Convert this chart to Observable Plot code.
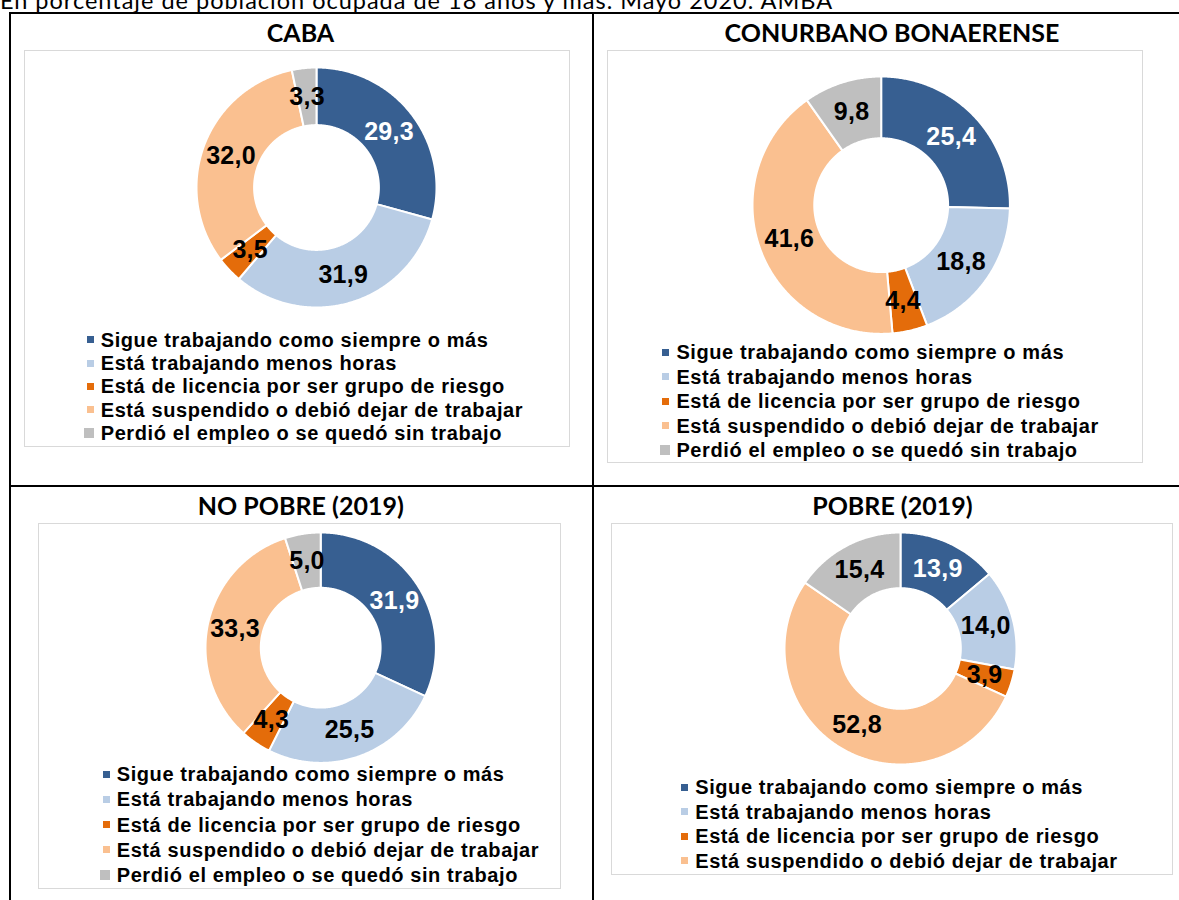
<!DOCTYPE html>
<html><head><meta charset="utf-8">
<script src="https://cdn.jsdelivr.net/npm/d3@7"></script>
<script src="https://cdn.jsdelivr.net/npm/@observablehq/plot@0.6"></script>
<style>
html,body{margin:0;padding:0;background:#fff;}
#page{position:relative;width:1179px;height:900px;overflow:hidden;background:#fff;}
.rule{position:absolute;background:#000;}
.title{position:absolute;font-family:Lato,"Open Sans",sans-serif;font-weight:700;white-space:nowrap;color:#000;text-align:center;}
.caption{position:absolute;font-family:Lato,"Open Sans",sans-serif;font-weight:400;white-space:nowrap;color:#000;}
.box{position:absolute;border:1.5px solid #d9d9d9;box-sizing:border-box;}
.leg{position:absolute;font-family:"Liberation Sans",Arial,sans-serif;font-weight:700;font-size:20px;line-height:20px;height:20px;white-space:nowrap;letter-spacing:0.6px;color:#000;}
.mk{position:absolute;}
.plotwrap{position:absolute;}
</style></head><body><div id="page"></div>
<script>
// ---------- DATA ----------
const caption = "En porcentaje de población ocupada de 18 años y más. Mayo 2020. AMBA";
const categories = [
  "Sigue trabajando como siempre o más",
  "Está trabajando menos horas",
  "Está de licencia por ser grupo de riesgo",
  "Está suspendido o debió dejar de trabajar",
  "Perdió el empleo o se quedó sin trabajo"
];
const panelTitles = ["CABA", "CONURBANO BONAERENSE", "NO POBRE (2019)", "POBRE (2019)"];
const cabaValues      = [29.3, 31.9, 3.5, 32.0, 3.3];
const conurbanoValues = [25.4, 18.8, 4.4, 41.6, 9.8];
const noPobreValues   = [31.9, 25.5, 4.3, 33.3, 5.0];
const pobreValues     = [13.9, 14.0, 3.9, 52.8, 15.4];
const legendCounts    = [5, 5, 5, 4];

// ---------- STYLE / LAYOUT ----------
const colors = ["#375f91", "#b9cde5", "#e46c0a", "#fac090", "#bfbfbf"];
const HOLE = 0.52;
const layout = [
  {titleCx: 300.5, titleBase: 41.7, box: [24, 50, 570.2, 447.3], cx: 315.7, cy: 186.5, r: 120, legX: 100.7, legBase: 346.7, legStep: 23.33},
  {titleCx: 892,   titleBase: 41.7, box: [607, 50, 1143.3, 463.3], cx: 880.6, cy: 204.5, r: 128.7, legX: 676.4, legBase: 359, legStep: 24.5},
  {titleCx: 300.8, titleBase: 515,  box: [38.3, 522.7, 561, 889.3], cx: 320.3, cy: 646.7, r: 115.2, legX: 116.7, legBase: 781, legStep: 25.25},
  {titleCx: 892.4, titleBase: 515,  box: [610.7, 522.7, 1173, 875], cx: 900.2, cy: 648.2, r: 116, legX: 695.2, legBase: 794.3, legStep: 24.5}
];
const allValues = [cabaValues, conurbanoValues, noPobreValues, pobreValues];
const fmt = v => v.toFixed(1).replace(".", ",");

const page = document.getElementById("page");
function el(cls, css, text) {
  const d = document.createElement("div");
  d.className = cls;
  Object.assign(d.style, css);
  if (text != null) d.textContent = text;
  page.appendChild(d);
  return d;
}

// caption (partly cut off at top, as in the source)
{
  const fs = 23.5;
  const ctx = document.createElement("canvas").getContext("2d");
  ctx.font = "400 " + fs + "px Lato";
  const w = ctx.measureText(caption).width;
  const ls = (835 - w) / caption.length;
  el("caption", {left: "0px", top: (9.5 - 0.887 * fs) + "px", fontSize: fs + "px", lineHeight: fs + "px", letterSpacing: ls + "px"}, caption);
}

// table rules
el("rule", {left: "9px", top: "12px", width: "1170px", height: "2px"});
el("rule", {left: "9px", top: "484.5px", width: "1170px", height: "2px"});
el("rule", {left: "9px", top: "12px", width: "2px", height: "888px"});
el("rule", {left: "592px", top: "12px", width: "2px", height: "888px"});

function donut(values, L) {
  const pie = d3.pie().sort(null).value(d => d)(values);
  const pts = [];
  pie.forEach((p, i) => {
    const span = p.endAngle - p.startAngle;
    const n = Math.max(2, Math.ceil(span / (Math.PI / 360)));
    const ring = [];
    for (let j = 0; j <= n; j++) { const a = p.startAngle + span * j / n; ring.push([Math.sin(a), Math.cos(a)]); }
    for (let j = n; j >= 0; j--) { const a = p.startAngle + span * j / n; ring.push([HOLE * Math.sin(a), HOLE * Math.cos(a)]); }
    ring.push(ring[0]);
    ring.forEach(([x, y]) => pts.push({cat: categories[i], x, y}));
  });
  const rm = (1 + HOLE) / 2;
  const labels = pie.map((p, i) => {
    const a = (p.startAngle + p.endAngle) / 2;
    return {x: rm * Math.sin(a), y: rm * Math.cos(a), text: fmt(values[i]), i};
  });
  const pad = 4, size = 2 * L.r + 2 * pad;
  const textOpts = {x: "x", y: "y", text: "text", fontSize: 25, fontWeight: "bold", fontFamily: "Liberation Sans, Arial, sans-serif"};
  return Plot.plot({
    width: size, height: size, margin: pad,
    x: {domain: [-1, 1], axis: null},
    y: {domain: [-1, 1], axis: null},
    color: {domain: categories, range: colors},
    style: {background: "transparent", overflow: "visible", letterSpacing: "0.3px"},
    marks: [
      Plot.line(pts, {x: "x", y: "y", z: "cat", fill: "cat", stroke: "white", strokeWidth: 2, curve: "linear"}),
      Plot.text(labels.filter(d => d.i === 0), {...textOpts, fill: "white"}),
      Plot.text(labels.filter(d => d.i !== 0), {...textOpts, fill: "black"})
    ]
  });
}

layout.forEach((L, k) => {
  // title
  const tfs = 25;
  el("title", {left: (L.titleCx - 300) + "px", width: "600px", top: (L.titleBase - 0.887 * tfs) + "px", fontSize: tfs + "px", lineHeight: tfs + "px"}, panelTitles[k]);
  // chart area box
  const [x0, y0, x1, y1] = L.box;
  el("box", {left: x0 + "px", top: y0 + "px", width: (x1 - x0) + "px", height: (y1 - y0) + "px"});
  // donut
  const svg = donut(allValues[k], L);
  const wrap = el("plotwrap", {left: (L.cx - L.r - 4) + "px", top: (L.cy - L.r - 4) + "px", width: (2 * L.r + 8) + "px", height: (2 * L.r + 8) + "px"});
  wrap.appendChild(svg);
  // legend
  for (let i = 0; i < legendCounts[k]; i++) {
    const base = L.legBase + i * L.legStep;
    const row = el("leg", {left: (L.legX - 14) + "px", top: (base - 17) + "px", paddingLeft: "14px"}, categories[i]);
    const sz = i === 4 ? 10 : 7;
    const mk = document.createElement("div");
    mk.className = "mk";
    Object.assign(mk.style, {left: (i === 4 ? -2.5 : 0) + "px", top: (10 - sz / 2) + "px", width: sz + "px", height: sz + "px", background: colors[i]});
    row.appendChild(mk);
  }
});
</script></body></html>
